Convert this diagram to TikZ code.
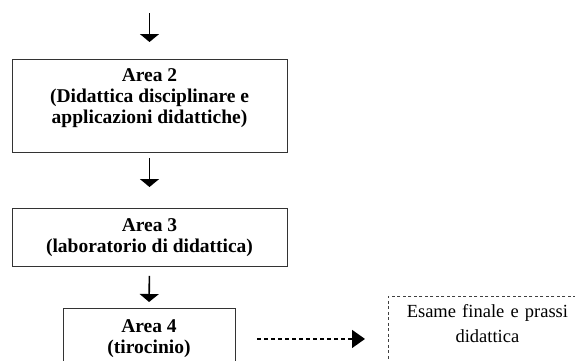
\documentclass[tikz,border=0pt]{standalone}
\usepackage{fontspec}
\setmainfont{Liberation Serif}
\usetikzlibrary{arrows.meta}
\tikzset{areabox/.style={draw=black!80,line width=.9pt,anchor=north,align=center,inner sep=4pt,font=\bfseries\fontsize{19.5}{20.8}\selectfont},flow/.style={line width=1.6pt,-{Triangle[length=8pt,width=19pt]}},exitflow/.style={line width=1.5pt,dash pattern=on 4pt off 3pt,-{Triangle[length=13pt,width=18pt]}}}

\begin{document}
\begin{tikzpicture}[x=1pt,y=-1pt]
\path[use as bounding box] (0,0) rectangle (575,360);
\clip (0,0) rectangle (575,360);
\coordinate (entry) at (149.5,13);
\node[areabox,minimum width=275pt,minimum height=93pt,text depth=20pt] (area2) at (149.5,59) {Area 2\\(Didattica disciplinare e\\applicazioni didattiche)};
\node[areabox,minimum width=275pt,minimum height=58pt] (area3) at (149.5,208) {Area 3\\(laboratorio di didattica)};
\node[areabox,minimum width=172pt,minimum height=61pt] (area4) at (149,308) {Area 4\\(tirocinio)};
\node[draw=black!75,line width=.8pt,dash pattern=on 3pt off 2.5pt,anchor=north west,align=center,text width=190pt,inner xsep=4pt,inner ysep=8pt,text depth=60pt,font=\fontsize{18.5}{25}\selectfont] (esame) at (388,296) {Esame finale e prassi\\didattica};
\draw[flow,shorten >=17pt] (entry) -- (area2.north);
\draw[flow,shorten <=5pt,shorten >=21pt] (area2.south) -- (area3.north);
\draw[flow,shorten <=9pt,shorten >=6pt] (area3.south) -- (area4.north);
\draw[exitflow,shorten <=22pt,shorten >=23pt] (area4.east) -- (area4.east -| esame.west);
\end{tikzpicture}
\end{document}
